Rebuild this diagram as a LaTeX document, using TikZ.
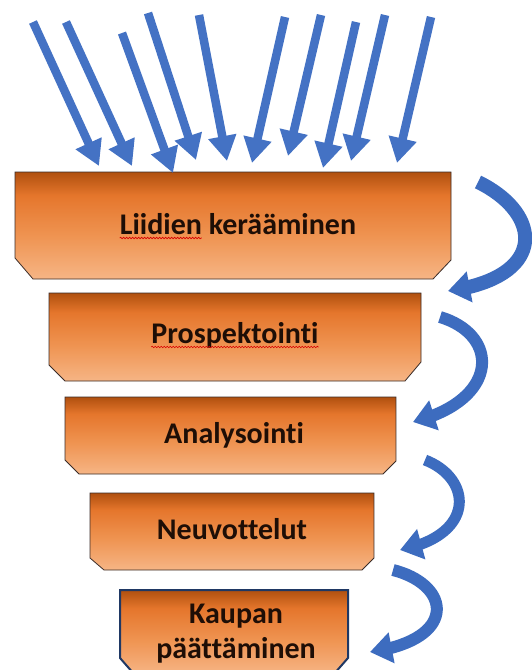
\documentclass[tikz,border=0pt]{standalone}
\usepackage{fontspec}
\setmainfont{Carlito}[Ligatures={NoCommon,NoRequired,NoContextual}]
\usetikzlibrary{arrows.meta,bending,calc,decorations.pathmorphing}
\definecolor{arrblue}{HTML}{4472C4}
\definecolor{curvblue}{HTML}{3D6CBF}
\definecolor{bdark}{HTML}{B0500F}
\definecolor{borange}{HTML}{E5762C}
\definecolor{bmid}{HTML}{EF9452}
\definecolor{bpeach}{HTML}{F6B585}
\definecolor{bline}{HTML}{3A2C28}
\definecolor{navy}{HTML}{1F3864}
\definecolor{txt}{HTML}{1E0E06}
\pgfdeclareverticalshading{boxshade}{100bp}{color(0bp)=(bpeach); color(25bp)=(bpeach); color(45bp)=(bmid); color(64bp)=(borange); color(75bp)=(bdark); color(100bp)=(bdark)}
\newlength\liidw
\begin{document}
\settowidth{\liidw}{\fontsize{30}{36}\selectfont\bfseries Liidien}%
\begin{tikzpicture}[x=1pt,y=-1pt,
  stagebox/.style={shade, shading=boxshade, draw=bline, line width=0.8pt},
  stagetext/.style={font=\fontsize{30}{36}\selectfont\bfseries, text=txt, inner sep=0pt, anchor=base},
  inarrow/.style={arrblue, line width=8.5pt, -{Triangle[length=25pt,width=27pt]}},
  turnarrow/.style={curvblue, line width=#1, -{Triangle[length=22pt,width=30pt]}},
  spellmark/.style={red!85!black, line width=0.6pt, decorate, decoration={snake, amplitude=0.8pt, segment length=3pt}}]
\useasboundingbox (0,0) rectangle (531,670);
\fill[white] (0,0) rectangle (531,670);

% boxes
\path[stagebox] (15,172) -- (451,172) -- (451,260) -- (433,279) -- (33,279) -- (15,258) -- cycle;
\path[stagebox] (49,293) -- (421,293) -- (421,362) -- (405,381) -- (65,381) -- (49,365) -- cycle;
\path[stagebox] (65,397) -- (396,397) -- (396,461) -- (383,474) -- (79,474) -- (65,460) -- cycle;
\path[stagebox] (90,493) -- (374,493) -- (374,558) -- (362,570) -- (104,570) -- (90,558) -- cycle;
\path[stagebox, draw=navy, line width=2pt] (120,590) -- (348,590) -- (348,658) -- (334,674) -- (134,674) -- (120,658) -- cycle;

% texts
\node[stagetext] (s1) at (238,234) {Liidien kerääminen};
\node[stagetext] (s2) at (235,343) {Prospektointi};
\node[stagetext] (s3) at (234,443) {Analysointi};
\node[stagetext] (s4) at (232,539) {Neuvottelut};
\node[stagetext] (s5a) at (236,623) {Kaupan};
\node[stagetext] (s5b) at (236,658) {päättäminen};

\draw[spellmark] ($(s1.base west)+(0pt,-4pt)$) -- ($(s1.base west)+(\liidw,-4pt)$);
\draw[spellmark] ($(s2.base west)+(0pt,-4pt)$) -- ($(s2.base east)+(0pt,-4pt)$);

% incoming arrows
\foreach \i/\tx/\ty/\hx/\hy in {1/33/22/99/166, 2/66/22/132/166, 3/122/33/173/173, 4/148/13/196/160, 5/199/15/227/161, 6/285/17/252/163, 7/321/15/288/156, 8/356/22/323/168, 9/385/15/351/161, 10/431/17/397/163}{
  \coordinate (t\i) at (\tx,\ty);
  \coordinate (h\i) at (\hx,\hy);
  \draw[inarrow] (t\i) -- (h\i);
}

% curved arrows
\coordinate (a1) at (478,182); \coordinate (a2) at (448,291);
\draw[turnarrow=14pt] (a1) .. controls (542,213) and (549,277) .. (a2);
\coordinate (b1) at (440,317); \coordinate (b2) at (413,422);
\draw[turnarrow=12pt] (b1) .. controls (500,335) and (500,400) .. (b2);
\coordinate (c1) at (425,460); \coordinate (c2) at (400,550);
\draw[turnarrow=11pt] (c1) .. controls (472,478) and (477,535) .. (c2);
\coordinate (d1) at (393,570); \coordinate (d2) at (370,652);
\draw[turnarrow=12pt] (d1) .. controls (452,585) and (458,640) .. (d2);
\end{tikzpicture}
\end{document}
